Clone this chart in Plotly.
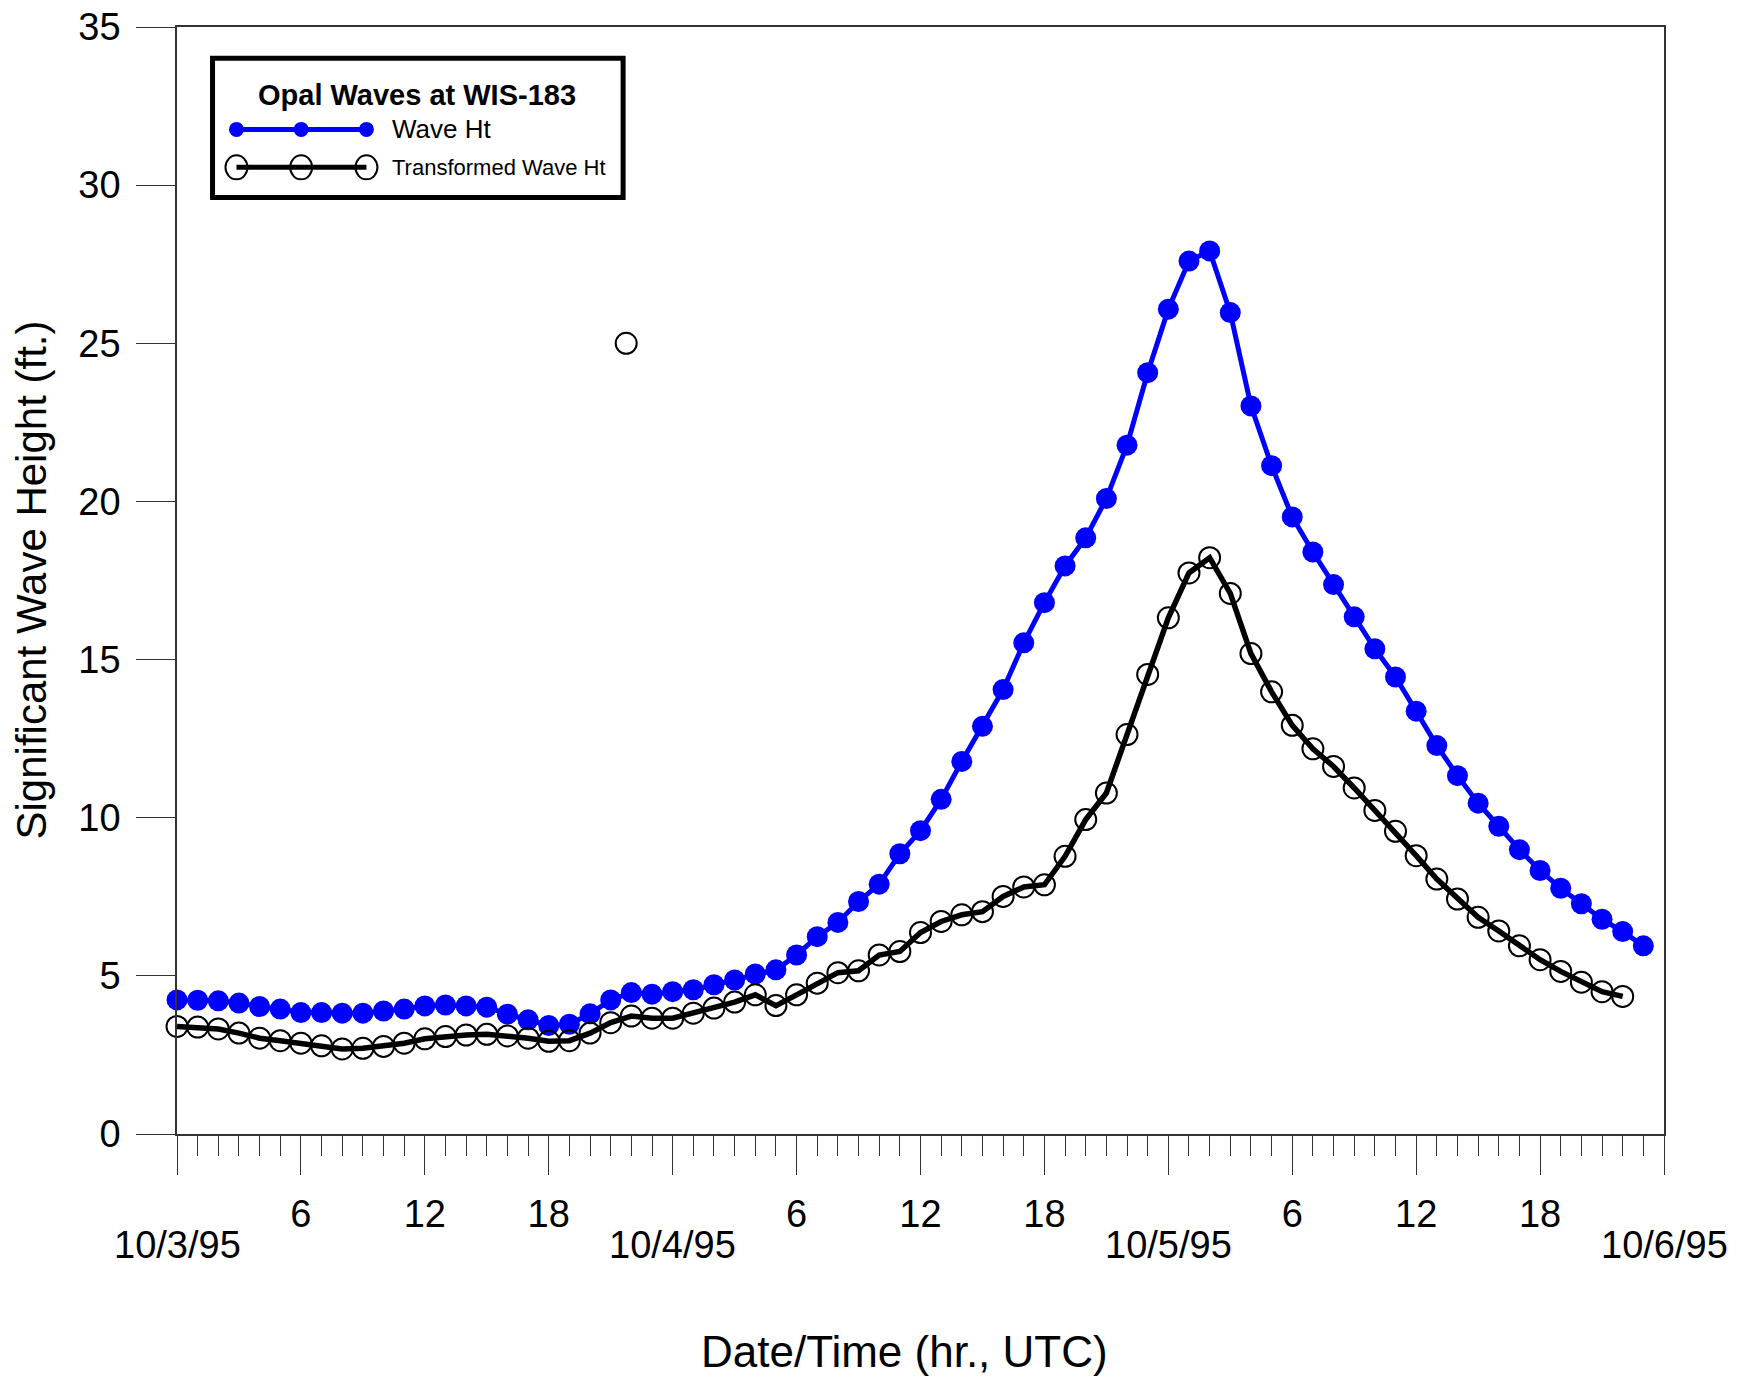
import plotly.graph_objects as go

# ---------------- data ----------------
hours_wave = list(range(0, 72))
wave_ht = [4.24, 4.23, 4.21, 4.14, 4.03, 3.95, 3.84, 3.84, 3.82, 3.82,
           3.89, 3.95, 4.05, 4.08, 4.05, 4.01, 3.79, 3.61, 3.43, 3.47,
           3.80, 4.24, 4.47, 4.42, 4.50, 4.56, 4.72, 4.87, 5.06, 5.19,
           5.66, 6.24, 6.69, 7.35, 7.90, 8.86, 9.59, 10.58, 11.78, 12.89,
           14.05, 15.53, 16.80, 17.96, 18.85, 20.09, 21.78, 24.07, 26.08, 27.60,
           27.92, 25.97, 23.02, 21.13, 19.51, 18.40, 17.37, 16.35, 15.34, 14.45,
           13.37, 12.28, 11.33, 10.46, 9.73, 8.99, 8.33, 7.77, 7.28, 6.79,
           6.40, 5.95]

hours_trans = list(range(0, 71))
trans_ht = [3.40, 3.38, 3.32, 3.19, 3.03, 2.95, 2.87, 2.79, 2.69, 2.71,
            2.77, 2.87, 3.01, 3.08, 3.13, 3.15, 3.10, 3.03, 2.93, 2.95,
            3.19, 3.52, 3.73, 3.66, 3.66, 3.82, 3.98, 4.17, 4.40, 4.06,
            4.40, 4.77, 5.10, 5.16, 5.66, 5.77, 6.37, 6.72, 6.93, 7.03,
            7.51, 7.81, 7.88, 8.78, 9.94, 10.78, 12.63, 14.53, 16.32, 17.74,
            18.22, 17.09, 15.19, 13.98, 12.92, 12.18, 11.62, 10.94, 10.23, 9.57,
            8.80, 8.06, 7.43, 6.85, 6.42, 5.95, 5.51, 5.14, 4.80, 4.50,
            4.35]

# stray open-circle point seen in the chart
stray_x = [21.75]
stray_y = [25.0]

hour_tick_vals = [0, 6, 12, 18, 24, 30, 36, 42, 48, 54, 60, 66, 72]
hour_tick_text = ["", "6", "12", "18", "", "6", "12", "18", "", "6", "12", "18", ""]
date_tick_vals = [0, 24, 48, 72]
date_tick_text = ["10/3/95", "10/4/95", "10/5/95", "10/6/95"]

legend_title = "Opal Waves at WIS-183"
series_names = ["Wave Ht", "Transformed Wave Ht"]

# ---------------- style ----------------
FONT = "Liberation Sans, Arial, sans-serif"
BLUE = "#0000FF"
AX = "#333333"

fig = go.Figure()

fig.add_trace(go.Scatter(
    x=hours_wave, y=wave_ht, mode="lines+markers", name=series_names[0],
    line=dict(color=BLUE, width=5),
    marker=dict(color=BLUE, size=21, symbol="circle"),
    cliponaxis=False, showlegend=False))

fig.add_trace(go.Scatter(
    x=hours_trans, y=trans_ht, mode="lines+markers", name=series_names[1],
    line=dict(color="black", width=5.5),
    marker=dict(color="black", size=21, symbol="circle-open", line=dict(width=2)),
    cliponaxis=False, showlegend=False))

fig.add_trace(go.Scatter(
    x=stray_x, y=stray_y, mode="markers",
    marker=dict(color="black", size=21, symbol="circle-open", line=dict(width=2)),
    showlegend=False))

fig.update_xaxes(
    range=[0, 72], tickmode="array", tickvals=hour_tick_vals, ticktext=hour_tick_text,
    ticks="outside", ticklen=39, tickwidth=1, tickcolor=AX,
    minor=dict(tickmode="linear", tick0=0, dtick=1, ticks="outside", ticklen=20,
               tickwidth=1, tickcolor=AX, showgrid=False),
    showline=True, linecolor=AX, linewidth=2, mirror=True,
    showgrid=False, zeroline=False,
    tickfont=dict(family=FONT, size=38, color="black"),
    ticklabelstandoff=6)

fig.update_yaxes(
    range=[0, 35], dtick=5, tick0=0,
    ticks="outside", ticklen=39, tickwidth=1, tickcolor=AX,
    showline=True, linecolor=AX, linewidth=1.5, mirror=True,
    showgrid=False, zeroline=False,
    tickfont=dict(family=FONT, size=38, color="black"),
    ticklabelstandoff=8)

annotations = []
for v, t in zip(date_tick_vals, date_tick_text):
    annotations.append(dict(x=v, y=0, xref="x", yref="paper", text=t, showarrow=False,
                            xanchor="center", yanchor="middle", yshift=-111,
                            font=dict(family=FONT, size=38, color="black")))
annotations.append(dict(x=0.489, y=0, xref="paper", yref="paper",
                        text="Date/Time (hr., UTC)", showarrow=False,
                        xanchor="center", yanchor="middle", yshift=-217,
                        font=dict(family=FONT, size=44, color="black")))
annotations.append(dict(x=0, y=0.5, xref="paper", yref="paper",
                        text="Significant Wave Height (ft.)", showarrow=False,
                        textangle=-90, xanchor="center", yanchor="middle", xshift=-146,
                        font=dict(family=FONT, size=42, color="black")))

# ---------------- custom legend ----------------
LX0, LX1, LY0, LY1 = 0.0239, 0.300, 0.846, 0.9717
shapes = [dict(type="rect", xref="paper", yref="paper", x0=LX0, x1=LX1, y0=LY0, y1=LY1,
               line=dict(color="black", width=5), fillcolor="white", layer="above")]
annotations.append(dict(x=0.1617, y=0.939, xref="paper", yref="paper", text="<b>" + legend_title + "</b>",
                        showarrow=False, xanchor="center", yanchor="middle",
                        font=dict(family=FONT, size=29, color="black")))
sx = [0.040, 0.0835, 0.1274]
row_y = [0.9075, 0.8732]
# blue row
shapes.append(dict(type="line", xref="paper", yref="paper", x0=sx[0], x1=sx[2], y0=row_y[0], y1=row_y[0],
                   line=dict(color=BLUE, width=5), layer="above"))
for px in sx:
    shapes.append(dict(type="circle", xref="paper", yref="paper", xsizemode="pixel", ysizemode="pixel",
                       xanchor=px, yanchor=row_y[0], x0=-7.5, x1=7.5, y0=-7.5, y1=7.5,
                       fillcolor=BLUE, line=dict(color=BLUE, width=0), layer="above"))
# black row
shapes.append(dict(type="line", xref="paper", yref="paper", x0=sx[0], x1=sx[2], y0=row_y[1], y1=row_y[1],
                   line=dict(color="black", width=5), layer="above"))
for px in sx:
    shapes.append(dict(type="circle", xref="paper", yref="paper", xsizemode="pixel", ysizemode="pixel",
                       xanchor=px, yanchor=row_y[1], x0=-11, x1=11, y0=-12, y1=12,
                       fillcolor="rgba(0,0,0,0)", line=dict(color="black", width=2), layer="above"))
annotations.append(dict(x=0.1435, y=row_y[0], xref="paper", yref="paper", text=series_names[0],
                        showarrow=False, xanchor="left", yanchor="middle",
                        font=dict(family=FONT, size=26, color="black")))
annotations.append(dict(x=0.1435, y=row_y[1], xref="paper", yref="paper", text=series_names[1],
                        showarrow=False, xanchor="left", yanchor="middle",
                        font=dict(family=FONT, size=22, color="black")))

fig.update_layout(
    width=1739, height=1378,
    margin=dict(l=176.5, r=75, t=26.6, b=244, pad=0, autoexpand=False),
    plot_bgcolor="white", paper_bgcolor="white",
    showlegend=False,
    annotations=annotations, shapes=shapes,
    font=dict(family=FONT, color="black"))

fig.write_html("out.html", config={"displayModeBar": False},
               post_script="document.body.style.margin='0';")
